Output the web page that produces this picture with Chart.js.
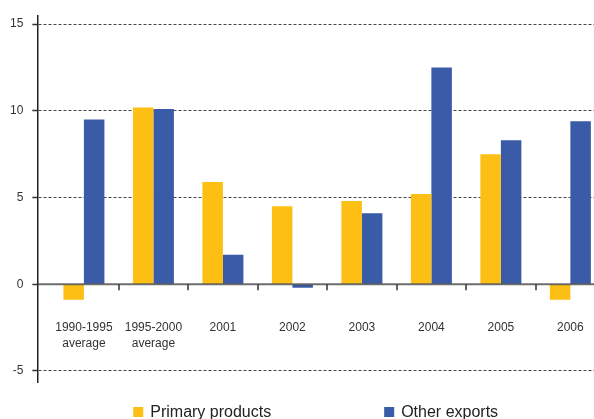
<!DOCTYPE html>
<html>
<head>
<meta charset="utf-8">
<script src="https://cdn.jsdelivr.net/npm/chart.js@4"></script>
<style>
  html, body { margin: 0; padding: 0; background: #fff; overflow: hidden; }
  canvas { display: block; }
</style>
</head>
<body>
<canvas id="exportChart" width="594" height="419"></canvas>
<script>
const categories = [['1990-1995', 'average'], ['1995-2000', 'average'], '2001', '2002', '2003', '2004', '2005', '2006'];
const primaryProducts = [-0.9, 10.2, 5.9, 4.5, 4.8, 5.2, 7.5, -0.9];
const otherExports = [9.5, 10.1, 1.7, -0.2, 4.1, 12.5, 8.3, 9.4];
const yTicks = [-5, 0, 5, 10, 15];
const seriesNames = ['Primary products', 'Other exports'];
const seriesColors = ['#FDBF14', '#3A5BA8'];

const FONT = '"Liberation Sans", Arial, Helvetica, sans-serif';

function toPoints(values) {
  return values.map((v, i) => ({ x: i, y: v }));
}

// zero line with category separators, plus the category labels
const categoryAxis = {
  id: 'categoryAxis',
  afterDatasetsDraw(chart) {
    const { ctx, chartArea: area, scales: { x, y } } = chart;
    const y0 = y.getPixelForValue(0);
    ctx.save();
    ctx.strokeStyle = 'rgba(60,60,60,0.75)';
    ctx.lineWidth = 2;
    ctx.beginPath();
    ctx.moveTo(area.left, y0);
    ctx.lineTo(area.right, y0);
    ctx.stroke();

    ctx.strokeStyle = '#333';
    ctx.lineWidth = 1.5;
    for (let i = 0; i < categories.length - 1; i++) {
      const px = Math.round(x.getPixelForValue(i + 0.5));
      ctx.beginPath();
      ctx.moveTo(px, y0);
      ctx.lineTo(px, y0 + 6);
      ctx.stroke();
    }

    ctx.fillStyle = '#333';
    ctx.font = '12px ' + FONT;
    ctx.textAlign = 'center';
    ctx.textBaseline = 'top';
    const top = area.bottom - 60;
    categories.forEach((label, i) => {
      const lines = Array.isArray(label) ? label : [label];
      const px = x.getPixelForValue(i);
      lines.forEach((line, j) => ctx.fillText(line, px, top + j * 16));
    });
    ctx.restore();
  }
};

// legend spread under the plot
const spreadLegend = {
  id: 'spreadLegend',
  afterDraw(chart) {
    const { ctx, chartArea: area } = chart;
    const gap = 113;
    ctx.save();
    ctx.font = '16px ' + FONT;
    const widths = chart.data.datasets.map(ds => 17 + ctx.measureText(ds.label).width);
    const total = widths.reduce((a, b) => a + b, 0) + gap * (widths.length - 1);
    let left = (area.left + area.right) / 2 - total / 2;
    const base = chart.height - 2;
    chart.data.datasets.forEach((ds, i) => {
      ctx.fillStyle = ds.backgroundColor;
      ctx.fillRect(left, base - 10, 10, 10);
      ctx.fillStyle = '#222';
      ctx.textBaseline = 'alphabetic';
      ctx.textAlign = 'left';
      ctx.fillText(ds.label, left + 17, base);
      left += widths[i] + gap;
    });
    ctx.restore();
  }
};

Chart.defaults.font.family = FONT;
Chart.defaults.color = '#333';

new Chart(document.getElementById('exportChart'), {
  type: 'bar',
  data: {
    datasets: [
      { label: seriesNames[0], data: toPoints(primaryProducts), backgroundColor: seriesColors[0] },
      { label: seriesNames[1], data: toPoints(otherExports), backgroundColor: seriesColors[1] },
    ],
  },
  options: {
    responsive: false,
    animation: false,
    layout: { padding: { left: 1, top: 14, right: 0, bottom: 37 } },
    datasets: { bar: { categoryPercentage: 0.59, barPercentage: 1, borderWidth: 0 } },
    plugins: { legend: { display: false }, tooltip: { enabled: false } },
    scales: {
      x: {
        type: 'linear',
        display: false,
        offset: false,
        min: -0.67,
        max: 7.34,
      },
      y: {
        min: -5.64,
        max: 15.46,
        afterBuildTicks: (scale) => { scale.ticks = yTicks.map(v => ({ value: v })); },
        ticks: { padding: 9, font: { size: 12 }, color: '#333' },
        grid: {
          color: (c) => (c.tick && c.tick.value === 0 ? 'rgba(0,0,0,0)' : '#444'),
          lineWidth: 1,
          tickLength: 5,
          tickColor: '#333',
          tickWidth: 1.5,
        },
        border: { color: '#222', width: 1.5, dash: [3, 2] },
      },
    },
  },
  plugins: [categoryAxis, spreadLegend],
});
</script>
</body>
</html>
